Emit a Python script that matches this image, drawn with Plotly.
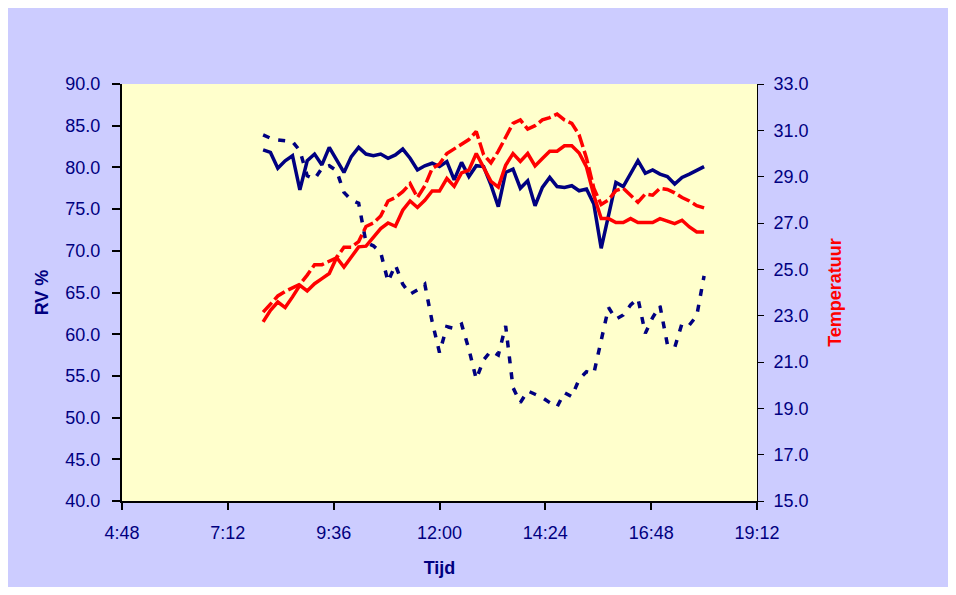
import plotly.graph_objects as go

times = ["8:00","8:10","8:20","8:30","8:40","8:50","9:00","9:10","9:20","9:30",
         "9:40","9:50","10:00","10:10","10:20","10:30","10:40","10:50","11:00","11:10",
         "11:20","11:30","11:40","11:50","12:00","12:10","12:20","12:30","12:40","12:50",
         "13:00","13:10","13:20","13:30","13:40","13:50","14:00","14:10","14:20","14:30",
         "14:40","14:50","15:00","15:10","15:20","15:30","15:40","15:50","16:00","16:10",
         "16:20","16:30","16:40","16:50","17:00","17:10","17:20","17:30","17:40","17:50",
         "18:00"]

rv_binnen = [82.1,81.8,79.9,80.8,81.4,77.3,80.8,81.6,80.3,82.4,
             80.9,79.4,81.3,82.4,81.6,81.4,81.6,81.1,81.5,82.2,
             81.1,79.7,80.2,80.5,80.1,80.7,78.5,80.6,78.9,80.2,
             80.1,77.9,75.3,79.4,79.8,77.5,78.4,75.4,77.6,78.8,
             77.7,77.6,77.8,77.2,77.4,75.6,70.3,74.3,78.2,77.7,
             79.3,80.8,79.3,79.7,79.2,78.9,78.0,78.8,79.2,79.6,
             80.1]

rv_buiten = [83.9,83.5,83.3,83.2,83.1,82.0,79.0,78.6,79.9,80.2,
             79.6,77.0,76.1,75.7,71.0,70.6,69.8,66.3,68.3,66.0,
             64.8,65.3,66.0,61.5,57.8,60.9,60.7,61.2,58.2,54.6,
             56.9,58.0,57.5,61.0,53.6,51.8,53.2,52.8,52.4,51.8,
             51.3,53.0,52.5,54.6,55.5,55.3,59.5,63.2,61.8,62.3,
             63.5,64.3,60.1,62.0,63.4,58.8,58.4,61.3,61.1,62.2,
             67.0]

temp_binnen = [22.73,23.23,23.59,23.35,23.81,24.31,24.07,24.38,24.6,24.82,
               25.51,25.1,25.53,25.97,26.0,26.37,26.76,27.0,26.86,27.55,
               27.95,27.67,27.98,28.38,28.38,28.92,28.58,29.16,29.28,30.0,
               29.38,28.8,28.55,29.49,30.0,29.66,30.0,29.46,29.78,30.1,
               30.1,30.33,30.33,30.02,29.42,28.2,27.19,27.19,27.02,27.02,
               27.19,27.02,27.02,27.02,27.19,27.07,26.97,27.12,26.83,26.61,
               26.61]

temp_buiten = [23.15,23.5,23.85,24.05,24.2,24.35,24.75,25.2,25.2,25.35,
               25.5,25.95,25.95,26.2,26.85,27.0,27.3,27.95,28.1,28.35,
               28.7,28.1,28.6,29.35,29.55,30.0,30.2,30.4,30.6,30.95,
               29.95,29.6,30.1,30.7,31.3,31.45,31.05,31.2,31.45,31.55,
               31.7,31.45,31.3,30.8,29.8,28.5,27.8,28.0,28.4,28.5,
               28.2,27.9,28.25,28.2,28.5,28.45,28.3,28.1,27.95,27.75,
               27.65]

x_range = ["4:48", "19:12"]
rv_range = [40, 90]
temp_range = [15, 33]

navy = "#000080"
red = "#FF0000"
day = "2000-01-01 "
xs = [day + t for t in times]

fig = go.Figure()
fig.add_trace(go.Scatter(x=xs, y=rv_buiten, mode="lines", yaxis="y",
                         line=dict(color=navy, width=3.5, dash="7px,9px")))
fig.add_trace(go.Scatter(x=xs, y=temp_buiten, mode="lines", yaxis="y2",
                         line=dict(color=red, width=3.5, dash="13px,4px")))
fig.add_trace(go.Scatter(x=xs, y=temp_binnen, mode="lines", yaxis="y2",
                         line=dict(color=red, width=3.5)))
fig.add_trace(go.Scatter(x=xs, y=rv_binnen, mode="lines", yaxis="y",
                         line=dict(color=navy, width=3.5)))

font = "Liberation Sans, Arial, sans-serif"
fig.update_layout(
    width=940, height=579,
    margin=dict(l=114, r=191, t=76, b=86),
    paper_bgcolor="#CCCCFF",
    plot_bgcolor="#FFFFCC",
    showlegend=False,
    font=dict(family=font, size=18, color=navy),
    xaxis=dict(
        type="date",
        range=[day + x_range[0], day + x_range[1]],
        tick0=day + "4:48", dtick=144 * 60 * 1000,
        tickformat="%-H:%M",
        showgrid=False, zeroline=False,
        showline=True, linecolor="black", linewidth=2,
        ticks="outside", ticklen=7, tickwidth=2, tickcolor="black",
        ticklabelstandoff=7,
        title=dict(text="<b>Tijd</b>", font=dict(size=18, color=navy), standoff=20),
    ),
    yaxis=dict(
        range=rv_range, dtick=5, tick0=40, tickformat=".1f",
        showgrid=False, zeroline=False,
        showline=True, linecolor="black", linewidth=2,
        ticks="outside", ticklen=8, tickwidth=2, tickcolor="black",
        ticklabelstandoff=8,
        title=dict(text="<b>RV %</b>", font=dict(size=18, color=navy), standoff=12),
    ),
    yaxis2=dict(
        range=temp_range, dtick=2, tick0=15, tickformat=".1f",
        overlaying="y", side="right",
        showgrid=False, zeroline=False,
        showline=True, linecolor="black", linewidth=1,
        ticks="outside", ticklen=6, tickwidth=1, tickcolor="black",
        ticklabelstandoff=6,
        title=dict(text="<b>Temperatuur</b>", font=dict(size=18, color=red), standoff=20),
    ),
)

fig.write_html("out.html")
